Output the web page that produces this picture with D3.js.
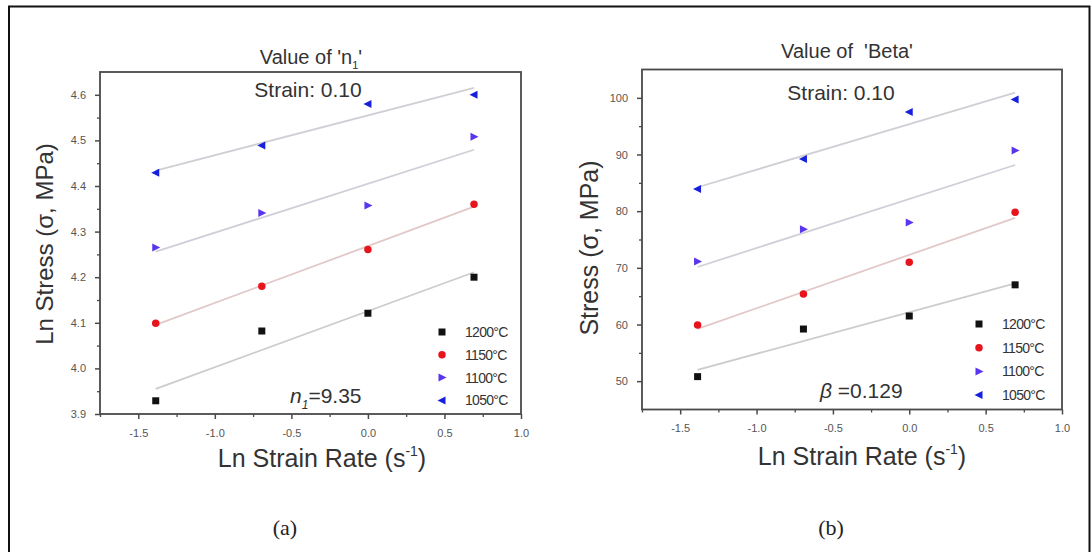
<!DOCTYPE html>
<html>
<head>
<meta charset="utf-8">
<script src="https://cdn.jsdelivr.net/npm/d3@7"></script>
<style>
  html, body { margin: 0; padding: 0; background: #fff; }
  svg { display: block; font-family: "Liberation Sans", Arial, sans-serif; }
</style>
</head>
<body>
<svg id="chart" width="1091" height="552"></svg>
<script>
// ---------------- DATA ----------------
const lnStrainRate = [-1.386, -0.693, 0.0, 0.693];
const temperatures = ["1200°C", "1150°C", "1100°C", "1050°C"];

// Panel (a): Ln stress
const lnStress1200 = [3.929, 4.082, 4.121, 4.200];
const lnStress1150 = [4.099, 4.180, 4.261, 4.360];
const lnStress1100 = [4.265, 4.341, 4.357, 4.508];
const lnStress1050 = [4.429, 4.489, 4.580, 4.600];

// Panel (b): Stress (MPa)
const stress1200 = [50.8, 59.2, 61.5, 67.0];
const stress1150 = [59.9, 65.4, 71.0, 79.8];
const stress1100 = [71.1, 76.8, 78.0, 90.7];
const stress1050 = [83.9, 89.2, 97.5, 99.7];

const xTicks = [-1.5, -1.0, -0.5, 0.0, 0.5, 1.0];
const xMinorTicks = [-1.75, -1.25, -0.75, -0.25, 0.25, 0.75];
const yTicksA = [3.9, 4.0, 4.1, 4.2, 4.3, 4.4, 4.5, 4.6];
const yMinorA = [3.95, 4.05, 4.15, 4.25, 4.35, 4.45, 4.55, 4.65];
const yTicksB = [50, 60, 70, 80, 90, 100];
const yMinorB = [45, 55, 65, 75, 85, 95, 105];

// ---------------- STYLE ----------------
const markerColors = ["#111111", "#e8141c", "#5a35f0", "#1620dc"];
const markerShapes = ["square", "circle", "triRight", "triLeft"];
const fitColors = ["#cccccc", "#e2c8c8", "#cfcfd8", "#cfcfd6"];

const svg = d3.select("#chart");

// outer frame
svg.append("rect").attr("x", 9).attr("y", 6.5).attr("width", 1080.5).attr("height", 560)
  .attr("fill", "none").attr("stroke", "#111").attr("stroke-width", 2);

function symbolPath(shape) {
  if (shape === "square") return "M-3.5,-3.5H3.5V3.5H-3.5Z";
  if (shape === "circle") return d3.symbol(d3.symbolCircle, 44)();
  if (shape === "triRight") return "M-3.5,-4L4.5,0L-3.5,4Z";
  return "M3.5,-4L-4.5,0L3.5,4Z";
}

function linFit(xs, ys) {
  const n = xs.length, mx = d3.mean(xs), my = d3.mean(ys);
  let sxy = 0, sxx = 0;
  for (let i = 0; i < n; i++) { sxy += (xs[i] - mx) * (ys[i] - my); sxx += (xs[i] - mx) ** 2; }
  const b = sxy / sxx;
  return x => my + b * (x - mx);
}

function panel(cfg) {
  const g = svg.append("g");
  const x = d3.scaleLinear().domain([-1.75, 1.0]).range([cfg.left, cfg.right]);
  const y = d3.scaleLinear().domain(cfg.yDomain).range([cfg.bottom, cfg.top]);

  // fit lines
  cfg.series.forEach((ys, i) => {
    const f = linFit(lnStrainRate, ys);
    const x0 = d3.min(lnStrainRate), x1 = d3.max(lnStrainRate);
    g.append("line")
      .attr("x1", x(x0)).attr("y1", y(f(x0)))
      .attr("x2", x(x1)).attr("y2", y(f(x1)))
      .attr("stroke", fitColors[i]).attr("stroke-width", 1.8);
  });

  // frame
  g.append("rect").attr("x", cfg.left).attr("y", cfg.top)
    .attr("width", cfg.right - cfg.left).attr("height", cfg.bottom - cfg.top)
    .attr("fill", "none").attr("stroke", "#4a4a4a").attr("stroke-width", 1.8);

  // x axis
  const xa = g.append("g").attr("transform", `translate(0,${cfg.bottom})`)
    .call(d3.axisBottom(x).tickValues(xTicks).tickSize(5).tickPadding(10).tickFormat(d3.format(".1f")));
  xa.select(".domain").remove();
  xa.selectAll("line").attr("stroke", "#4a4a4a").attr("stroke-width", 1.5);
  xa.selectAll("text").attr("fill", "#555").attr("font-size", 11).attr("font-family", "Liberation Sans, Arial")
    .text(d => d3.format(".1f")(d).replace("−", "-"));
  g.append("g").attr("transform", `translate(0,${cfg.bottom})`)
    .call(d3.axisBottom(x).tickValues(xMinorTicks).tickSize(3).tickFormat(""))
    .call(s => { s.select(".domain").remove(); s.selectAll("line").attr("stroke", "#4a4a4a").attr("stroke-width", 1.3); });

  // y axis
  const ya = g.append("g").attr("transform", `translate(${cfg.left},0)`)
    .call(d3.axisLeft(y).tickValues(cfg.yTicks).tickSize(5).tickPadding(9).tickFormat(cfg.yFmt));
  ya.select(".domain").remove();
  ya.selectAll("line").attr("stroke", "#4a4a4a").attr("stroke-width", 1.5);
  ya.selectAll("text").attr("fill", "#555").attr("font-size", 11).attr("font-family", "Liberation Sans, Arial");
  g.append("g").attr("transform", `translate(${cfg.left},0)`)
    .call(d3.axisLeft(y).tickValues(cfg.yMinor.filter(v => v > cfg.yDomain[0] && v < cfg.yDomain[1])).tickSize(3).tickFormat(""))
    .call(s => { s.select(".domain").remove(); s.selectAll("line").attr("stroke", "#4a4a4a").attr("stroke-width", 1.3); });

  // markers
  cfg.series.forEach((ys, i) => {
    g.append("g").selectAll("path").data(ys).join("path")
      .attr("transform", (d, j) => `translate(${x(lnStrainRate[j])},${y(d)})`)
      .attr("d", symbolPath(markerShapes[i]))
      .attr("fill", markerColors[i]);
  });

  // legend
  temperatures.forEach((t, i) => {
    const ly = cfg.legY + i * cfg.legStep;
    g.append("path").attr("transform", `translate(${cfg.legX},${ly})`)
      .attr("d", symbolPath(markerShapes[i])).attr("fill", markerColors[i]);
    g.append("text").attr("x", cfg.legX + 23).attr("y", ly + 5)
      .attr("font-size", 14).attr("fill", "#333").attr("letter-spacing", -0.7).text(t);
  });

  // Strain text
  g.append("text").attr("x", cfg.strainX).attr("y", cfg.strainY).attr("text-anchor", "middle")
    .attr("font-size", 21).attr("fill", "#333").text("Strain: 0.10");

  // x label
  const xl = g.append("text").attr("x", cfg.xlabX).attr("y", cfg.xlabY).attr("text-anchor", "middle")
    .attr("font-size", 25).attr("fill", "#333");
  xl.append("tspan").text("Ln Strain Rate (s");
  xl.append("tspan").attr("font-size", 14).attr("dy", -11).text("-1");
  xl.append("tspan").attr("dy", 11).text(")");

  // y label
  g.append("text").attr("transform", `translate(${cfg.ylabX},${cfg.ylabY}) rotate(-90)`)
    .attr("text-anchor", "middle").attr("font-size", cfg.ylabSize).attr("fill", "#333").text(cfg.ylab);

  // panel caption
  g.append("text").attr("x", cfg.capX).attr("y", 535).attr("text-anchor", "middle")
    .attr("font-family", "Liberation Serif, Times New Roman, serif").attr("font-size", 22).attr("fill", "#222")
    .text(cfg.cap);
  return g;
}

const ga = panel({
  left: 100, right: 521, top: 72, bottom: 414,
  yDomain: [3.9, 4.65], yTicks: yTicksA, yMinor: yMinorA, yFmt: d3.format(".1f"),
  series: [lnStress1200, lnStress1150, lnStress1100, lnStress1050],
  legX: 442, legY: 332, legStep: 22.8,
  strainX: 308, strainY: 97,
  xlabX: 322, xlabY: 467,
  ylabX: 53, ylabY: 244, ylabSize: 24, ylab: "Ln Stress (σ, MPa)",
  capX: 285, cap: "(a)"
});
// title (a)
const ta = ga.append("text").attr("x", 311).attr("y", 64).attr("text-anchor", "middle")
  .attr("font-size", 20).attr("fill", "#333");
ta.append("tspan").text("Value of 'n");
ta.append("tspan").attr("font-size", 11).attr("dy", 5).text("1");
ta.append("tspan").attr("dy", -5).text("'");
// n1 annotation
const na = ga.append("text").attr("x", 290).attr("y", 403).attr("font-size", 21).attr("fill", "#333");
na.append("tspan").attr("font-style", "italic").text("n");
na.append("tspan").attr("font-size", 12).attr("dy", 6).attr("font-style", "italic").text("1");
na.append("tspan").attr("dy", -6).text("=9.35");

const gb = panel({
  left: 642, right: 1062, top: 69.5, bottom: 409.5,
  yDomain: [45, 105], yTicks: yTicksB, yMinor: yMinorB, yFmt: d3.format("d"),
  series: [stress1200, stress1150, stress1100, stress1050],
  legX: 979, legY: 324, legStep: 23.7,
  strainX: 841, strainY: 100,
  xlabX: 862, xlabY: 465,
  ylabX: 598, ylabY: 248, ylabSize: 25, ylab: "Stress (σ, MPa)",
  capX: 831, cap: "(b)"
});
gb.append("text").attr("x", 847).attr("y", 58).attr("text-anchor", "middle")
  .attr("font-size", 20).attr("fill", "#333").attr("xml:space", "preserve").text("Value of  'Beta'");
const bb = gb.append("text").attr("x", 820).attr("y", 398).attr("font-size", 21).attr("fill", "#333");
bb.append("tspan").attr("font-style", "italic").text("β");
bb.append("tspan").text(" =0.129");
</script>
</body>
</html>
